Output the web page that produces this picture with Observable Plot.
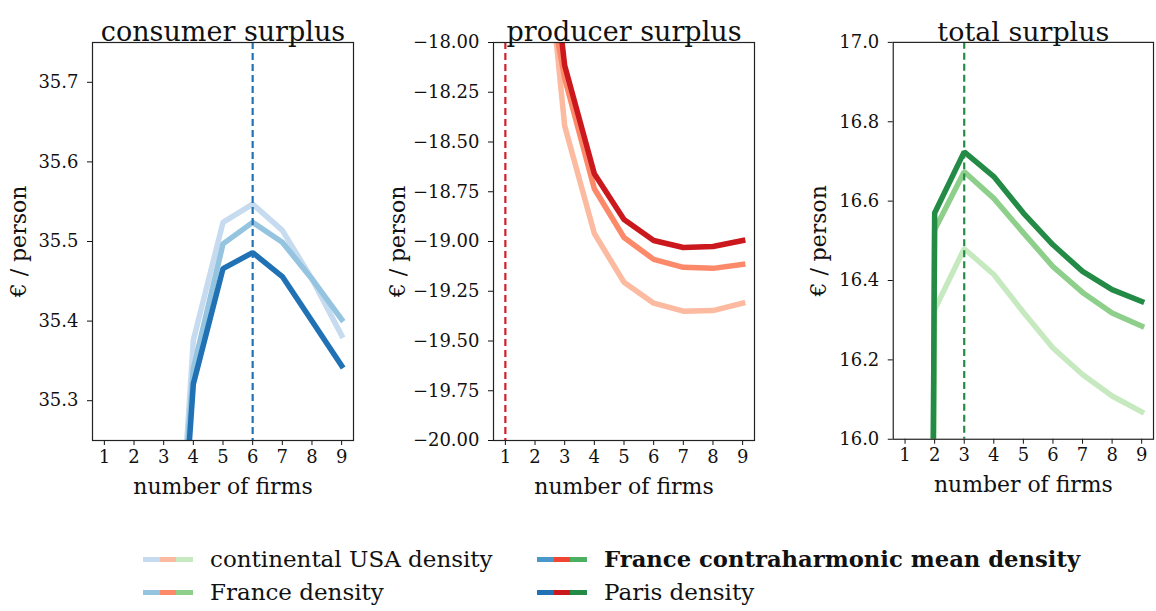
<!DOCTYPE html>
<html><head><meta charset="utf-8">
<script src="https://cdn.jsdelivr.net/npm/d3@7"></script>
<script src="https://cdn.jsdelivr.net/npm/@observablehq/plot@0.6"></script>
<style>
body{margin:0;background:#fff;font-family:"DejaVu Serif",serif;}
#root{position:relative;width:1156px;height:611px;overflow:hidden;background:#fff;}
.panel{position:absolute;top:0;}
.legend{position:absolute;left:0;top:0;font-family:"DejaVu Serif",serif;font-size:23px;color:#111;}
.item{position:absolute;display:flex;align-items:center;white-space:nowrap;}
.handle{display:inline-flex;width:50px;height:5px;margin-right:17px;}
.handle span{flex:1;height:5px;}
</style></head><body><div id="root"></div>
<script>
// ---- data ----
const firms = [1, 2, 3, 4, 5, 6, 7, 8, 9];
const xTicks = [1, 2, 3, 4, 5, 6, 7, 8, 9];

const consumerUSA    = [33.6, 34.3, 34.80, 35.376, 35.524, 35.547, 35.514, 35.453, 35.382];
const consumerFrance = [33.6, 34.3, 34.84, 35.340, 35.497, 35.524, 35.499, 35.453, 35.402];
const consumerParis  = [33.5, 34.2, 34.78, 35.321, 35.466, 35.486, 35.456, 35.400, 35.344];

const producerUSA    = [-15.5, -16.92, -18.42, -18.96, -19.205, -19.31, -19.35, -19.347, -19.31];
const producerFrance = [-15.8, -17.36, -18.18, -18.735, -18.98, -19.09, -19.13, -19.135, -19.115];
const producerParis  = [-15.4, -16.80, -18.116, -18.66, -18.89, -18.995, -19.03, -19.025, -18.995];

const totalUSA    = [4.0, 16.327, 16.48, 16.415, 16.32, 16.23, 16.163, 16.109, 16.069];
const totalFrance = [4.0, 16.528, 16.674, 16.607, 16.52, 16.435, 16.37, 16.318, 16.285];
const totalParis  = [4.0, 16.570, 16.724, 16.662, 16.57, 16.49, 16.423, 16.377, 16.347];

const optimalFirms = [6, 1, 3];

const titles = ["consumer surplus", "producer surplus", "total surplus"];
const consumerTicks = [35.3, 35.4, 35.5, 35.6, 35.7];
const producerTicks = [-20, -19.75, -19.5, -19.25, -19, -18.75, -18.5, -18.25, -18];
const totalTicks = [16.0, 16.2, 16.4, 16.6, 16.8, 17.0];

const legendLabels = ["continental USA density", "France density", "France contraharmonic mean density", "Paris density"];
const blues  = ["#c6dbef", "#94c4df", "#4a98c9", "#2171b5"];
const reds   = ["#fcbba1", "#fc8a6a", "#f14432", "#cb181d"];
const greens = ["#c7e9c0", "#8ed08b", "#4bb062", "#238b45"];

// ---- drawing ----
const root = document.getElementById("root");
const FRAME_W = 261, FRAME_H = 398, MT = 42, MB = 70, ML = 92, MR = 3;
const FONT = "'DejaVu Serif', serif";

function makePanel(frameLeft, title, yDomain, yTicks, yFmt, seriesList, colors, rule, ruleColor, ylabDx) {
  const data = (arr) => firms.map((x, i) => ({x, y: arr[i]}));
  const fx = d3.format("d"), fy = d3.format(yFmt);
  const marks = [
    Plot.axisX({ticks: xTicks, tickSize: 5, tickFormat: () => "", label: null}),
    Plot.axisY({ticks: yTicks, tickSize: 5, tickFormat: () => "", label: null}),
    Plot.text(xTicks, {x: d => d, frameAnchor: "bottom", dy: 22, text: d => fx(d), fontSize: 18, fontFamily: FONT, fill: "#111"}),
    Plot.text(yTicks, {y: d => d, frameAnchor: "left", textAnchor: "end", dx: -14, text: d => fy(d), fontSize: 18, fontFamily: FONT, fill: "#111"}),
  ];
  seriesList.forEach((arr, i) => {
    marks.push(Plot.line(data(arr), {x: "x", y: "y", stroke: colors[i], strokeWidth: 5.5, clip: true, strokeLinejoin: "miter", strokeLinecap: "square"}));
  });
  marks.push(Plot.ruleX([rule], {stroke: ruleColor, strokeWidth: 2.2, strokeDasharray: "7,4", clip: true}));
  marks.push(Plot.frame({stroke: "#222", strokeWidth: 1.2}));
  marks.push(Plot.text([title], {frameAnchor: "top", dy: -21, fontSize: 27, fontFamily: FONT, fill: "#111"}));
  marks.push(Plot.text(["number of firms"], {frameAnchor: "bottom", dy: 53, fontSize: 22, fontFamily: FONT, fill: "#111"}));
  marks.push(Plot.text(["€ / person"], {frameAnchor: "left", textAnchor: "middle", dx: ylabDx, rotate: -90, fontSize: 22, fontFamily: FONT, fill: "#111"}));
  const svg = Plot.plot({
    width: ML + FRAME_W + MR, height: MT + FRAME_H + MB,
    marginLeft: ML, marginRight: MR, marginTop: MT, marginBottom: MB,
    x: {domain: [0.6, 9.4]},
    y: {domain: yDomain},
    style: {fontFamily: FONT, background: "transparent", color: "#111", overflow: "visible"},
    marks
  });
  const div = document.createElement("div");
  div.className = "panel";
  div.style.left = (frameLeft - ML) + "px";
  div.appendChild(svg);
  root.appendChild(div);
}

makePanel(92, titles[0], [35.25, 35.75], consumerTicks, ".1f",
  [consumerUSA, consumerFrance, consumerParis], [blues[0], blues[1], blues[3]], optimalFirms[0], "#2273b5", -74);
makePanel(493, titles[1], [-20, -18], producerTicks, ".2f",
  [producerUSA, producerFrance, producerParis], [reds[0], reds[1], reds[3]], optimalFirms[1], "#d0202a", -96);
makePanel(893, titles[2], [16, 17], totalTicks, ".1f",
  [totalUSA, totalFrance, totalParis], [greens[0], greens[1], greens[3]], optimalFirms[2], "#238b45", -74);

// legend
const legend = document.createElement("div");
legend.className = "legend";
root.appendChild(legend);
const pos = [[143, 559], [143, 592], [537, 559], [537, 592]];
legendLabels.forEach((lab, i) => {
  const it = document.createElement("div");
  it.className = "item";
  it.style.left = pos[i][0] + "px";
  it.style.top = (pos[i][1] - 15) + "px";
  it.style.height = "30px";
  const h = document.createElement("span");
  h.className = "handle";
  [blues[i], reds[i], greens[i]].forEach(c => {
    const s = document.createElement("span"); s.style.background = c; h.appendChild(s);
  });
  const t = document.createElement("span");
  t.textContent = lab;
  if (i === 2) { t.style.fontWeight = "bold"; t.style.fontSize = "22.7px"; }
  it.appendChild(h); it.appendChild(t);
  legend.appendChild(it);
});
</script></body></html>
